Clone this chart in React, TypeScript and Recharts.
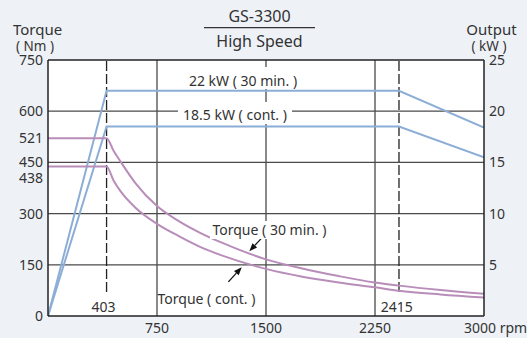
import { LineChart, Line, XAxis, YAxis, CartesianGrid, ReferenceLine } from 'recharts';

// torque curves (Nm)
const torqueRpm = [0, 403, 450, 500, 600, 750, 900, 1050, 1200, 1500, 1750, 2000, 2250, 2415, 2700, 3000];
const torque30min = [521, 521, 485, 452, 390, 322, 278, 243, 214, 166, 139, 117, 98, 89, 76, 65];
const torqueCont = [438, 438, 398, 365, 318, 270, 234, 202, 177, 138, 115, 98, 84, 74, 63, 54];

// output curves (kW)
const outputRpm = [0, 403, 2415, 3000];
const output30min = [0, 22, 22, 18.4];
const outputCont = [0, 18.5, 18.5, 15.5];

const xTicks = [750, 1500, 2250, 3000];
const torqueTicks = [0, 150, 300, 438, 450, 521, 600, 750];
const outputTicks = [5, 10, 15, 20, 25];
const gridRpm = [750, 1500, 2250];
const gridTorque = [150, 300, 450, 600];
const markRpm = [403, 2415];

const torque30Data = torqueRpm.map((rpm, i) => ({ rpm, t: torque30min[i] }));
const torqueContData = torqueRpm.map((rpm, i) => ({ rpm, t: torqueCont[i] }));
const output30Data = outputRpm.map((rpm, i) => ({ rpm, kw: output30min[i] }));
const outputContData = outputRpm.map((rpm, i) => ({ rpm, kw: outputCont[i] }));

const FONT = '"Noto Sans", sans-serif';
const TEXT = '#333';
const BLUE = '#8caed6';
const PURPLE = '#b98db9';
const GRID = '#4a4a4a';

const arrowShape = (props: any) => {
    const { x1, y1, x2, y2 } = props;
    if (x1 == null) return <g />;
    const ang = Math.atan2(y2 - y1, x2 - x1);
    const len = 8;
    const w = 3.2;
    const bx = x2 - len * Math.cos(ang);
    const by = y2 - len * Math.sin(ang);
    const px = -Math.sin(ang) * w;
    const py = Math.cos(ang) * w;
    return (
        <g>
            <line x1={x1} y1={y1} x2={bx} y2={by} stroke="#111" strokeWidth={1.3} />
            <polygon points={`${x2},${y2} ${bx + px},${by + py} ${bx - px},${by - py}`} fill="#111" />
        </g>
    );
};

const LeftTick = (props: any) => {
    const { x, y, payload } = props;
    // 438 sits just under 450, push it down so the two labels don't collide
    const shift = payload.value === 438 ? 11 : 0;
    return (
        <text x={x} y={y + shift} dy="0.36em" textAnchor="end" fill={TEXT} fontSize={14} fontFamily={FONT}>
            {payload.value}
        </text>
    );
};

const BottomTick = (props: any) => {
    const { x, y, payload } = props;
    if (payload.value === 3000) {
        return (
            <text x={x - 20} y={y} dy="0.75em" textAnchor="start" fill={TEXT} fontSize={14} fontFamily={FONT}>
                3000 rpm
            </text>
        );
    }
    return (
        <text x={x} y={y} dy="0.75em" textAnchor="middle" fill={TEXT} fontSize={14} fontFamily={FONT}>
            {payload.value}
        </text>
    );
};

export default function App() {
    return (
        <div style={{ position: 'relative', width: 527, height: 338, background: '#eef2f7', fontFamily: FONT }}>
            <style>{`body{margin:0}`}</style>
            <LineChart width={527} height={338} margin={{ top: 60, right: 0, bottom: 0, left: 0 }}>
                <CartesianGrid fill="#fff" stroke="none" />
                <XAxis
                    dataKey="rpm"
                    type="number"
                    domain={[0, 3000]}
                    ticks={xTicks}
                    height={22}
                    tickLine={false}
                    tickSize={4}
                    tickMargin={2}
                    stroke="#222"
                    strokeWidth={1.5}
                    tick={<BottomTick />}
                    allowDataOverflow
                />
                <YAxis
                    yAxisId="torque"
                    domain={[0, 750]}
                    ticks={torqueTicks}
                    width={48}
                    tickLine={false}
                    tickSize={3}
                    tickMargin={2}
                    stroke="#222"
                    strokeWidth={1.5}
                    tick={<LeftTick />}
                    interval={0}
                />
                <YAxis
                    yAxisId="kw"
                    orientation="right"
                    domain={[0, 25]}
                    ticks={outputTicks}
                    width={43}
                    tickLine={false}
                    tickSize={3}
                    tickMargin={2}
                    stroke="#222"
                    strokeWidth={1.5}
                    tick={{ fill: TEXT, fontSize: 14, fontFamily: FONT }}
                    interval={0}
                />
                {gridRpm.map((v) => (
                    <ReferenceLine key={'gx' + v} x={v} yAxisId="torque" stroke={GRID} strokeWidth={1.3} />
                ))}
                {gridTorque.map((v) => (
                    <ReferenceLine key={'gy' + v} y={v} yAxisId="torque" stroke={GRID} strokeWidth={1.3} />
                ))}
                <ReferenceLine y={750} yAxisId="torque" stroke="#222" strokeWidth={1.5} />
                {markRpm.map((v) => (
                    <ReferenceLine
                        key={'m' + v}
                        yAxisId="torque"
                        segment={[{ x: v, y: 70 }, { x: v, y: 750 }]}
                        stroke="#222"
                        strokeWidth={1.3}
                        strokeDasharray="10 3"
                    />
                ))}
                <Line data={output30Data} dataKey="kw" yAxisId="kw" type="linear" stroke={BLUE} strokeWidth={2} dot={false} isAnimationActive={false} />
                <Line data={outputContData} dataKey="kw" yAxisId="kw" type="linear" stroke={BLUE} strokeWidth={2} dot={false} isAnimationActive={false} />
                <Line data={torque30Data} dataKey="t" yAxisId="torque" type="monotone" stroke={PURPLE} strokeWidth={2} dot={false} isAnimationActive={false} />
                <Line data={torqueContData} dataKey="t" yAxisId="torque" type="monotone" stroke={PURPLE} strokeWidth={2} dot={false} isAnimationActive={false} />
                <ReferenceLine yAxisId="torque" segment={[{ x: 1470, y: 228 }, { x: 1385, y: 190 }]} shape={arrowShape} />
                <ReferenceLine yAxisId="torque" segment={[{ x: 1241, y: 100 }, { x: 1333, y: 143 }]} shape={arrowShape} />
            </LineChart>
            <svg width={527} height={338} style={{ position: 'absolute', left: 0, top: 0, pointerEvents: 'none' }}>
                <g fontFamily={FONT} fill={TEXT}>
                    <text x={13} y={35} fontSize={15}>Torque</text>
                    <text x={35} y={51} fontSize={13.5} textAnchor="middle">( Nm )</text>
                    <text x={491.5} y={35} fontSize={15} textAnchor="middle">Output</text>
                    <text x={489} y={51} fontSize={13.5} textAnchor="middle">( kW )</text>
                    <text x={259.5} y={22.3} fontSize={16} textAnchor="middle">GS-3300</text>
                    <line x1={204} y1={27.7} x2={315} y2={27.7} stroke="#333" strokeWidth={1.3} />
                    <text x={259.5} y={47.4} fontSize={16} textAnchor="middle">High Speed</text>

                    <rect x={185} y={67} width={115} height={22} fill="#fff" />
                    <text x={243} y={86} fontSize={14} textAnchor="middle">22 kW ( 30 min. )</text>
                    <rect x={178} y={102} width={114} height={22} fill="#fff" />
                    <text x={235} y={120} fontSize={14} textAnchor="middle">18.5 kW ( cont. )</text>
                    <rect x={210} y={221} width={119} height={18} fill="#fff" />
                    <text x={269.5} y={235} fontSize={14} textAnchor="middle">Torque ( 30 min. )</text>
                    <text x={206.5} y={303.5} fontSize={14} textAnchor="middle">Torque ( cont. )</text>
                    <text x={103.5} y={311.7} fontSize={14} textAnchor="middle">403</text>
                    <text x={396.7} y={311.7} fontSize={14} textAnchor="middle">2415</text>
                </g>
            </svg>
        </div>
    );
}
